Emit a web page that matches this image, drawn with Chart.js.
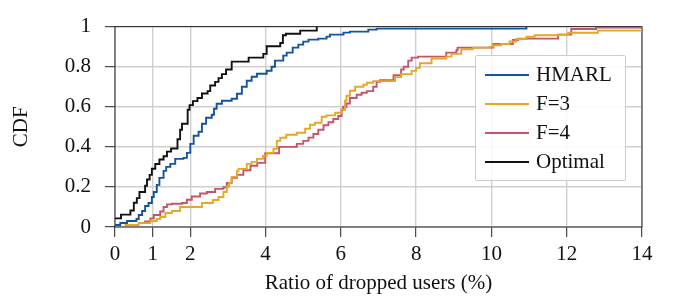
<!DOCTYPE html>
<html>
<head>
<meta charset="utf-8">
<script src="https://cdn.jsdelivr.net/npm/chart.js@4.4.1/dist/chart.umd.min.js"></script>
<style>
  body { margin: 0; background: #fff; }
  #wrap { position: relative; width: 678px; height: 304px; }
  #legend {
    position: absolute; left: 475px; top: 55px; width: 151px; height: 126px;
    box-sizing: border-box; border: 1px solid #cccccc; border-radius: 2px;
    background: rgba(255, 255, 255, 0.85); padding: 4px 0 0 9px;
    font-family: "Liberation Serif", "Times New Roman", serif; font-size: 21px; color: #111;
  }
  .row { height: 29px; display: flex; align-items: center; }
  .swatch { width: 44px; height: 0; border-top: 2px solid; margin-right: 7px; }
</style>
</head>
<body>
<div id="wrap">
  <canvas id="cdf" width="678" height="304"></canvas>
  <div id="legend"></div>
</div>
<script>
// step points of each empirical CDF: x = dropped users (%), y = CDF
const hmarlX = [0, 0.14, 0.32, 0.57, 0.63, 0.72, 0.80, 0.89, 0.98, 1.03, 1.11, 1.18, 1.29, 1.36, 1.47, 1.60, 1.82, 1.91, 2.00, 2.09, 2.22, 2.31, 2.42, 2.57, 2.63, 2.70, 2.84, 3.10, 3.24, 3.37, 3.50, 3.63, 3.77, 4.03, 4.16, 4.25, 4.47, 4.56, 4.72, 4.87, 5.00, 5.14, 5.40, 5.62, 5.71, 6.07, 6.24, 6.73, 6.95, 10.93];
const hmarlY = [0.01, 0.02, 0.03, 0.04, 0.06, 0.08, 0.105, 0.12, 0.15, 0.175, 0.21, 0.245, 0.28, 0.30, 0.315, 0.34, 0.345, 0.37, 0.415, 0.455, 0.475, 0.515, 0.545, 0.56, 0.59, 0.615, 0.63, 0.64, 0.665, 0.70, 0.73, 0.75, 0.765, 0.78, 0.80, 0.83, 0.855, 0.87, 0.895, 0.91, 0.925, 0.935, 0.94, 0.95, 0.96, 0.97, 0.975, 0.985, 0.99, 1.0];

const f3X = [0.25, 0.63, 0.94, 1.11, 1.20, 1.34, 1.51, 1.73, 2.31, 2.60, 2.75, 2.88, 2.97, 3.03, 3.10, 3.24, 3.28, 3.50, 3.63, 3.77, 3.93, 4.03, 4.21, 4.30, 4.39, 4.55, 4.83, 5.05, 5.18, 5.31, 5.49, 5.62, 5.85, 6.02, 6.11, 6.15, 6.24, 6.38, 6.60, 6.69, 6.86, 7.44, 7.60, 7.88, 8.00, 8.10, 8.41, 8.80, 8.94, 9.20, 9.50, 9.95, 10.05, 10.26, 10.48, 10.66, 10.93, 11.15, 11.80, 12.04, 12.83, 14];
const f3Y = [0.01, 0.02, 0.03, 0.04, 0.05, 0.07, 0.08, 0.10, 0.12, 0.135, 0.15, 0.175, 0.20, 0.22, 0.25, 0.28, 0.29, 0.315, 0.325, 0.34, 0.355, 0.37, 0.39, 0.43, 0.445, 0.46, 0.47, 0.49, 0.51, 0.52, 0.55, 0.557, 0.57, 0.585, 0.63, 0.655, 0.68, 0.70, 0.71, 0.72, 0.728, 0.748, 0.763, 0.779, 0.794, 0.817, 0.84, 0.85, 0.864, 0.887, 0.895, 0.90, 0.907, 0.913, 0.926, 0.938, 0.949, 0.957, 0.96, 0.969, 0.98, 0.98];

const f4X = [0.63, 0.80, 0.94, 1.03, 1.20, 1.29, 1.38, 1.51, 1.78, 1.91, 2.04, 2.26, 2.44, 2.66, 2.88, 2.97, 3.10, 3.24, 3.41, 3.60, 3.78, 3.99, 4.36, 4.83, 5.00, 5.14, 5.27, 5.40, 5.54, 5.67, 5.80, 5.93, 6.02, 6.06, 6.15, 6.24, 6.42, 6.55, 6.69, 6.86, 6.95, 7.04, 7.40, 7.60, 7.67, 7.79, 7.88, 8.05, 8.80, 9.07, 9.10, 10.05, 10.57, 10.71, 11.77, 12.12, 12.78, 14];
const f4Y = [0.02, 0.028, 0.043, 0.06, 0.077, 0.10, 0.113, 0.116, 0.12, 0.136, 0.152, 0.167, 0.175, 0.19, 0.198, 0.22, 0.245, 0.26, 0.283, 0.306, 0.32, 0.368, 0.40, 0.415, 0.43, 0.446, 0.464, 0.485, 0.508, 0.523, 0.539, 0.554, 0.585, 0.60, 0.616, 0.644, 0.66, 0.67, 0.678, 0.70, 0.725, 0.732, 0.757, 0.786, 0.80, 0.83, 0.845, 0.85, 0.87, 0.882, 0.895, 0.913, 0.933, 0.94, 0.96, 0.988, 0.995, 0.995];

const optX = [0, 0.16, 0.41, 0.50, 0.58, 0.65, 0.80, 0.85, 0.92, 0.98, 1.07, 1.18, 1.29, 1.38, 1.49, 1.66, 1.73, 1.78, 1.93, 1.98, 2.07, 2.19, 2.31, 2.46, 2.53, 2.66, 2.75, 2.84, 2.95, 3.10, 3.55, 3.94, 4.03, 4.39, 4.46, 4.54, 4.92, 5.36];
const optY = [0.043, 0.062, 0.082, 0.121, 0.144, 0.175, 0.206, 0.237, 0.26, 0.291, 0.314, 0.337, 0.353, 0.376, 0.392, 0.438, 0.485, 0.515, 0.585, 0.608, 0.628, 0.644, 0.666, 0.678, 0.706, 0.724, 0.743, 0.763, 0.786, 0.825, 0.845, 0.864, 0.902, 0.918, 0.957, 0.964, 0.98, 1.0];

const xTicks = [0, 1, 2, 4, 6, 8, 10, 12, 14];
const seriesNames = ['HMARL', 'F=3', 'F=4', 'Optimal'];
const seriesColors = ['#16539e', '#e5a727', '#c6546c', '#111111'];

const serif = '"Liberation Serif", "Times New Roman", serif';

function pts(xs, ys) {
  return xs.map((x, i) => ({ x: x, y: ys[i] }));
}

const allData = [pts(hmarlX, hmarlY), pts(f3X, f3Y), pts(f4X, f4Y), pts(optX, optY)];

// frame around the plot area
const framePlugin = {
  id: 'frame',
  beforeDatasetsDraw(chart) {
    const a = chart.chartArea, ctx = chart.ctx;
    ctx.save();
    ctx.strokeStyle = '#262626';
    ctx.lineWidth = 1;
    ctx.strokeRect(a.left, a.top, a.right - a.left, a.bottom - a.top);
    ctx.restore();
  }
};

const chart = new Chart(document.getElementById('cdf').getContext('2d'), {
  type: 'line',
  data: {
    datasets: seriesNames.map((name, i) => ({
      label: name,
      data: allData[i],
      borderColor: seriesColors[i],
      borderWidth: 1.9,
      pointRadius: 0,
      stepped: true,
      fill: false
    }))
  },
  options: {
    responsive: false,
    animation: false,
    layout: { padding: { left: 0, right: 36, top: 11, bottom: 0 } },
    plugins: { legend: { display: false }, tooltip: { enabled: false } },
    scales: {
      x: {
        type: 'linear', min: 0, max: 14,
        afterBuildTicks: s => { s.ticks = xTicks.map(v => ({ value: v })); },
        afterFit: s => { s.height = 77; },
        border: { display: false },
        grid: { color: '#cfcfcf', lineWidth: 1.4, tickColor: '#222', tickWidth: 1, tickLength: 10 },
        ticks: { color: '#111', font: { family: serif, size: 21 }, padding: 5, maxRotation: 0, autoSkip: false },
        title: { display: true, text: 'Ratio of dropped users (%)', color: '#111',
                 font: { family: serif, size: 21 }, padding: { top: 0, bottom: 8 } }
      },
      y: {
        min: 0, max: 1,
        afterFit: s => { s.width = 115; },
        border: { display: false },
        grid: { color: '#cfcfcf', lineWidth: 1.4, tickColor: '#222', tickWidth: 1, tickLength: 10 },
        ticks: { stepSize: 0.2, color: '#111', font: { family: serif, size: 21 }, padding: 14,
                 callback: v => String(+v.toFixed(1)) },
        title: { display: true, text: 'CDF', color: '#111',
                 font: { family: serif, size: 21 }, padding: { top: 9, bottom: 0 } }
      }
    }
  },
  plugins: [framePlugin]
});

// legend box built from the datasets
const legend = document.getElementById('legend');
chart.data.datasets.forEach(ds => {
  const row = document.createElement('div');
  row.className = 'row';
  const sw = document.createElement('span');
  sw.className = 'swatch';
  sw.style.borderTopColor = ds.borderColor;
  const txt = document.createElement('span');
  txt.textContent = ds.label;
  row.appendChild(sw);
  row.appendChild(txt);
  legend.appendChild(row);
});
</script>
</body>
</html>
